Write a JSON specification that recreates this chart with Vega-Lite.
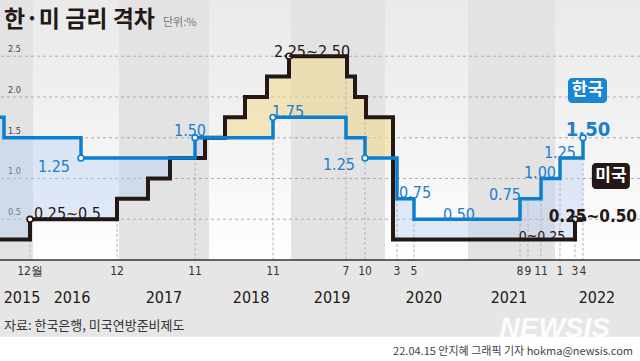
{
  "$schema": "https://vega.github.io/schema/vega-lite/v6.json",
  "width": 640,
  "height": 260,
  "autosize": "none",
  "padding": {"left": 0, "right": 0, "top": 0, "bottom": 101},
  "background": "#e6e6e6",
  "config": {"view": {"stroke": null}, "font": "Noto Sans CJK KR"},
  "data": {"values": [{}]},
  "datasets": {
    "bands": [
      {"start": "2015-05-01", "end": "2016-01-01", "shade": "odd"},
      {"start": "2016-01-01", "end": "2017-01-01", "shade": "even"},
      {"start": "2017-01-01", "end": "2018-01-01", "shade": "odd"},
      {"start": "2018-01-01", "end": "2019-01-01", "shade": "even"},
      {"start": "2019-01-01", "end": "2020-01-01", "shade": "odd"},
      {"start": "2020-01-01", "end": "2021-01-01", "shade": "even"},
      {"start": "2021-01-01", "end": "2022-01-01", "shade": "odd"},
      {"start": "2022-01-01", "end": "2022-08-31", "shade": "even"}
    ],
    "rates": [
      {"date": "2015-05-01", "kr": 1.75, "us": 0.25},
      {"date": "2015-06-11", "kr": 1.50, "us": 0.25},
      {"date": "2015-12-16", "kr": 1.50, "us": 0.50},
      {"date": "2016-06-09", "kr": 1.25, "us": 0.50},
      {"date": "2016-12-14", "kr": 1.25, "us": 0.75},
      {"date": "2017-03-15", "kr": 1.25, "us": 1.00},
      {"date": "2017-06-14", "kr": 1.25, "us": 1.25},
      {"date": "2017-11-30", "kr": 1.50, "us": 1.25},
      {"date": "2017-12-13", "kr": 1.50, "us": 1.50},
      {"date": "2018-03-21", "kr": 1.50, "us": 1.75},
      {"date": "2018-06-13", "kr": 1.50, "us": 2.00},
      {"date": "2018-09-26", "kr": 1.50, "us": 2.25},
      {"date": "2018-11-30", "kr": 1.75, "us": 2.25},
      {"date": "2018-12-19", "kr": 1.75, "us": 2.50},
      {"date": "2019-07-18", "kr": 1.50, "us": 2.50},
      {"date": "2019-07-31", "kr": 1.50, "us": 2.25},
      {"date": "2019-09-18", "kr": 1.50, "us": 2.00},
      {"date": "2019-10-16", "kr": 1.25, "us": 2.00},
      {"date": "2019-10-30", "kr": 1.25, "us": 1.75},
      {"date": "2020-03-15", "kr": 1.25, "us": 0.25},
      {"date": "2020-03-16", "kr": 0.75, "us": 0.25},
      {"date": "2020-05-28", "kr": 0.50, "us": 0.25},
      {"date": "2021-08-26", "kr": 0.75, "us": 0.25},
      {"date": "2021-11-25", "kr": 1.00, "us": 0.25},
      {"date": "2022-01-14", "kr": 1.25, "us": 0.25},
      {"date": "2022-03-16", "kr": 1.25, "us": 0.50},
      {"date": "2022-04-14", "kr": 1.50, "us": 0.50},
      {"date": "2022-04-22", "kr": null, "us": 0.50}
    ],
    "ticks": [
      {"date": "2015-12-16", "label": "12월", "top": 0.5},
      {"date": "2016-12-14", "label": "12", "top": 0.75},
      {"date": "2017-11-30", "label": "11", "top": 1.5},
      {"date": "2018-11-30", "label": "11", "top": 1.75},
      {"date": "2019-07-18", "label": "7", "top": 2.25},
      {"date": "2019-10-16", "label": "10", "top": 2.0},
      {"date": "2020-03-16", "label": "3", "top": 0.75},
      {"date": "2020-05-28", "label": "5", "top": 0.5},
      {"date": "2021-08-26", "label": "8", "top": 0.75},
      {"date": "2021-09-30", "label": "9", "top": 0.75},
      {"date": "2021-11-25", "label": "11", "top": 1.0},
      {"date": "2022-01-14", "label": "1", "top": 1.25},
      {"date": "2022-03-16", "label": "3", "top": 0.5},
      {"date": "2022-04-14", "label": "4", "top": 1.5}
    ],
    "years": [
      {"date": "2015-10-19", "label": "2015"},
      {"date": "2016-05-10", "label": "2016"},
      {"date": "2017-05-20", "label": "2017"},
      {"date": "2018-07-12", "label": "2018"},
      {"date": "2019-05-29", "label": "2019"},
      {"date": "2020-07-07", "label": "2020"},
      {"date": "2021-07-07", "label": "2021"},
      {"date": "2022-05-18", "label": "2022"}
    ],
    "grid": [
      {"v": 0.5, "label": "0.5"},
      {"v": 1.0, "label": "1.0"},
      {"v": 1.5, "label": "1.5"},
      {"v": 2.0, "label": "2.0"},
      {"v": 2.5, "label": "2.5"}
    ],
    "dots": [
      {"date": "2015-12-16", "v": 0.5, "who": "us"},
      {"date": "2018-12-19", "v": 2.5, "who": "us"},
      {"date": "2022-03-16", "v": 0.5, "who": "us"},
      {"date": "2016-06-09", "v": 1.25, "who": "kr"},
      {"date": "2017-11-30", "v": 1.5, "who": "kr"},
      {"date": "2018-11-30", "v": 1.75, "who": "kr"},
      {"date": "2019-10-16", "v": 1.25, "who": "kr"},
      {"date": "2022-04-14", "v": 1.5, "who": "kr"}
    ]
  },
  "layer": [
    {
      "data": {"name": "bands", "format": {"parse": {"start": "date", "end": "date"}}},
      "transform": [{"filter": "datum.shade == 'odd'"}],
      "mark": {"type": "rect", "fill": "#e3e3e3"},
      "encoding": {
        "x": {"field": "start", "type": "quantitative", "axis": null, "scale": {"domain": [1430438400000, 1433980800000, 1450224000000, 1451606400000, 1465430400000, 1481673600000, 1483228800000, 1489536000000, 1497398400000, 1512000000000, 1513123200000, 1514764800000, 1521590400000, 1528848000000, 1537920000000, 1543536000000, 1545177600000, 1546300800000, 1563408000000, 1564531200000, 1568764800000, 1571184000000, 1572393600000, 1577836800000, 1584230400000, 1584316800000, 1590624000000, 1609459200000, 1629936000000, 1632960000000, 1637798400000, 1640995200000, 1642118400000, 1647388800000, 1649894400000, 1661904000000], "range": [0, 4, 30, 33, 81, 117, 119, 148, 170, 195, 205, 209, 225, 245, 267, 273, 289, 291, 346, 347, 355, 365, 366, 385, 393, 397, 414, 468, 520, 528, 541, 555, 560, 575, 583, 640], "nice": false, "zero": false}},
        "x2": {"field": "end"}
      }
    },
    {
      "data": {"name": "bands", "format": {"parse": {"start": "date", "end": "date"}}},
      "transform": [{"filter": "datum.shade == 'even'"}],
      "mark": {"type": "rect", "fill": {"gradient": "linear", "x1": 0, "y1": 0, "x2": 0, "y2": 1, "stops": [{"offset": 0, "color": "#eaeaea"}, {"offset": 0.5, "color": "#f2f2f2"}, {"offset": 1, "color": "#ffffff"}]}},
      "encoding": {
        "x": {"field": "start", "type": "quantitative", "scale": {"domain": [1430438400000, 1433980800000, 1450224000000, 1451606400000, 1465430400000, 1481673600000, 1483228800000, 1489536000000, 1497398400000, 1512000000000, 1513123200000, 1514764800000, 1521590400000, 1528848000000, 1537920000000, 1543536000000, 1545177600000, 1546300800000, 1563408000000, 1564531200000, 1568764800000, 1571184000000, 1572393600000, 1577836800000, 1584230400000, 1584316800000, 1590624000000, 1609459200000, 1629936000000, 1632960000000, 1637798400000, 1640995200000, 1642118400000, 1647388800000, 1649894400000, 1661904000000], "range": [0, 4, 30, 33, 81, 117, 119, 148, 170, 195, 205, 209, 225, 245, 267, 273, 289, 291, 346, 347, 355, 365, 366, 385, 393, 397, 414, 468, 520, 528, 541, 555, 560, 575, 583, 640], "nice": false, "zero": false}},
        "x2": {"field": "end"}
      }
    },
    {
      "data": {"name": "bands", "format": {"parse": {"start": "date", "end": "date"}}},
      "mark": {"type": "rect", "fill": "#ffffff", "height": 26},
      "encoding": {
        "x": {"field": "start", "type": "quantitative", "scale": {"domain": [1430438400000, 1433980800000, 1450224000000, 1451606400000, 1465430400000, 1481673600000, 1483228800000, 1489536000000, 1497398400000, 1512000000000, 1513123200000, 1514764800000, 1521590400000, 1528848000000, 1537920000000, 1543536000000, 1545177600000, 1546300800000, 1563408000000, 1564531200000, 1568764800000, 1571184000000, 1572393600000, 1577836800000, 1584230400000, 1584316800000, 1590624000000, 1609459200000, 1629936000000, 1632960000000, 1637798400000, 1640995200000, 1642118400000, 1647388800000, 1649894400000, 1661904000000], "range": [0, 4, 30, 33, 81, 117, 119, 148, 170, 195, 205, 209, 225, 245, 267, 273, 289, 291, 346, 347, 355, 365, 366, 385, 393, 397, 414, 468, 520, 528, 541, 555, 560, 575, 583, 640], "nice": false, "zero": false}},
        "x2": {"field": "end"},
        "y": {"datum": -1.1, "type": "quantitative", "scale": {"domain": [0, 3.19], "nice": false, "zero": false}, "axis": null}
      }
    },
    {
      "data": {"name": "grid"},
      "mark": {"type": "rule", "color": "#9c9c9c", "strokeDash": [3, 3], "strokeWidth": 0.8},
      "encoding": {
        "y": {"field": "v", "type": "quantitative"}
      }
    },
    {
      "data": {"name": "grid"},
      "mark": {"type": "text", "align": "left", "baseline": "bottom", "dx": 8, "dy": -2, "fontSize": 9, "font": "DejaVu Sans Condensed, sans-serif", "color": "#444444"},
      "encoding": {
        "y": {"field": "v", "type": "quantitative"},
        "x": {"datum": 1430438400000, "type": "quantitative", "scale": {"domain": [1430438400000, 1433980800000, 1450224000000, 1451606400000, 1465430400000, 1481673600000, 1483228800000, 1489536000000, 1497398400000, 1512000000000, 1513123200000, 1514764800000, 1521590400000, 1528848000000, 1537920000000, 1543536000000, 1545177600000, 1546300800000, 1563408000000, 1564531200000, 1568764800000, 1571184000000, 1572393600000, 1577836800000, 1584230400000, 1584316800000, 1590624000000, 1609459200000, 1629936000000, 1632960000000, 1637798400000, 1640995200000, 1642118400000, 1647388800000, 1649894400000, 1661904000000], "range": [0, 4, 30, 33, 81, 117, 119, 148, 170, 195, 205, 209, 225, 245, 267, 273, 289, 291, 346, 347, 355, 365, 366, 385, 393, 397, 414, 468, 520, 528, 541, 555, 560, 575, 583, 640], "nice": false, "zero": false}},
        "text": {"field": "label"}
      }
    },
    {
      "data": {"name": "rates", "format": {"parse": {"date": "date"}}},
      "transform": [{"filter": "time(datum.date) <= utc(2017, 11, 13)"}],
      "mark": {"type": "area", "interpolate": "step-after", "color": "#b3ccf0", "opacity": 0.4},
      "encoding": {
        "x": {"field": "date", "type": "quantitative", "scale": {"domain": [1430438400000, 1433980800000, 1450224000000, 1451606400000, 1465430400000, 1481673600000, 1483228800000, 1489536000000, 1497398400000, 1512000000000, 1513123200000, 1514764800000, 1521590400000, 1528848000000, 1537920000000, 1543536000000, 1545177600000, 1546300800000, 1563408000000, 1564531200000, 1568764800000, 1571184000000, 1572393600000, 1577836800000, 1584230400000, 1584316800000, 1590624000000, 1609459200000, 1629936000000, 1632960000000, 1637798400000, 1640995200000, 1642118400000, 1647388800000, 1649894400000, 1661904000000], "range": [0, 4, 30, 33, 81, 117, 119, 148, 170, 195, 205, 209, 225, 245, 267, 273, 289, 291, 346, 347, 355, 365, 366, 385, 393, 397, 414, 468, 520, 528, 541, 555, 560, 575, 583, 640], "nice": false, "zero": false}},
        "y": {"field": "kr", "type": "quantitative"},
        "y2": {"field": "us"}
      }
    },
    {
      "data": {"name": "rates", "format": {"parse": {"date": "date"}}},
      "transform": [{"filter": "time(datum.date) >= utc(2017, 11, 13) && time(datum.date) <= utc(2020, 2, 15)"}],
      "mark": {"type": "area", "interpolate": "step-after", "color": "#f2d88e", "opacity": 0.55},
      "encoding": {
        "x": {"field": "date", "type": "quantitative", "scale": {"domain": [1430438400000, 1433980800000, 1450224000000, 1451606400000, 1465430400000, 1481673600000, 1483228800000, 1489536000000, 1497398400000, 1512000000000, 1513123200000, 1514764800000, 1521590400000, 1528848000000, 1537920000000, 1543536000000, 1545177600000, 1546300800000, 1563408000000, 1564531200000, 1568764800000, 1571184000000, 1572393600000, 1577836800000, 1584230400000, 1584316800000, 1590624000000, 1609459200000, 1629936000000, 1632960000000, 1637798400000, 1640995200000, 1642118400000, 1647388800000, 1649894400000, 1661904000000], "range": [0, 4, 30, 33, 81, 117, 119, 148, 170, 195, 205, 209, 225, 245, 267, 273, 289, 291, 346, 347, 355, 365, 366, 385, 393, 397, 414, 468, 520, 528, 541, 555, 560, 575, 583, 640], "nice": false, "zero": false}},
        "y": {"field": "kr", "type": "quantitative"},
        "y2": {"field": "us"}
      }
    },
    {
      "data": {"name": "rates", "format": {"parse": {"date": "date"}}},
      "transform": [{"filter": "time(datum.date) >= utc(2020, 2, 15) && datum.kr != null"}],
      "mark": {"type": "area", "interpolate": "step-after", "color": "#b3ccf0", "opacity": 0.4},
      "encoding": {
        "x": {"field": "date", "type": "quantitative", "scale": {"domain": [1430438400000, 1433980800000, 1450224000000, 1451606400000, 1465430400000, 1481673600000, 1483228800000, 1489536000000, 1497398400000, 1512000000000, 1513123200000, 1514764800000, 1521590400000, 1528848000000, 1537920000000, 1543536000000, 1545177600000, 1546300800000, 1563408000000, 1564531200000, 1568764800000, 1571184000000, 1572393600000, 1577836800000, 1584230400000, 1584316800000, 1590624000000, 1609459200000, 1629936000000, 1632960000000, 1637798400000, 1640995200000, 1642118400000, 1647388800000, 1649894400000, 1661904000000], "range": [0, 4, 30, 33, 81, 117, 119, 148, 170, 195, 205, 209, 225, 245, 267, 273, 289, 291, 346, 347, 355, 365, 366, 385, 393, 397, 414, 468, 520, 528, 541, 555, 560, 575, 583, 640], "nice": false, "zero": false}},
        "y": {"field": "kr", "type": "quantitative"},
        "y2": {"field": "us"}
      }
    },
    {
      "data": {"name": "ticks", "format": {"parse": {"date": "date"}}},
      "mark": {"type": "rule", "color": "#b4b4b4", "strokeDash": [3, 2], "strokeWidth": 1},
      "encoding": {
        "x": {"field": "date", "type": "quantitative", "scale": {"domain": [1430438400000, 1433980800000, 1450224000000, 1451606400000, 1465430400000, 1481673600000, 1483228800000, 1489536000000, 1497398400000, 1512000000000, 1513123200000, 1514764800000, 1521590400000, 1528848000000, 1537920000000, 1543536000000, 1545177600000, 1546300800000, 1563408000000, 1564531200000, 1568764800000, 1571184000000, 1572393600000, 1577836800000, 1584230400000, 1584316800000, 1590624000000, 1609459200000, 1629936000000, 1632960000000, 1637798400000, 1640995200000, 1642118400000, 1647388800000, 1649894400000, 1661904000000], "range": [0, 4, 30, 33, 81, 117, 119, 148, 170, 195, 205, 209, 225, 245, 267, 273, 289, 291, 346, 347, 355, 365, 366, 385, 393, 397, 414, 468, 520, 528, 541, 555, 560, 575, 583, 640], "nice": false, "zero": false}},
        "y": {"field": "top", "type": "quantitative"},
        "y2": {"datum": 0}
      }
    },
    {
      "data": {"name": "ticks", "format": {"parse": {"date": "date"}}},
      "mark": {"type": "text", "baseline": "middle", "dy": 11, "fontSize": 12, "font": "DejaVu Sans Condensed, sans-serif", "color": "#333333"},
      "encoding": {
        "x": {"field": "date", "type": "quantitative", "scale": {"domain": [1430438400000, 1433980800000, 1450224000000, 1451606400000, 1465430400000, 1481673600000, 1483228800000, 1489536000000, 1497398400000, 1512000000000, 1513123200000, 1514764800000, 1521590400000, 1528848000000, 1537920000000, 1543536000000, 1545177600000, 1546300800000, 1563408000000, 1564531200000, 1568764800000, 1571184000000, 1572393600000, 1577836800000, 1584230400000, 1584316800000, 1590624000000, 1609459200000, 1629936000000, 1632960000000, 1637798400000, 1640995200000, 1642118400000, 1647388800000, 1649894400000, 1661904000000], "range": [0, 4, 30, 33, 81, 117, 119, 148, 170, 195, 205, 209, 225, 245, 267, 273, 289, 291, 346, 347, 355, 365, 366, 385, 393, 397, 414, 468, 520, 528, 541, 555, 560, 575, 583, 640], "nice": false, "zero": false}},
        "y": {"datum": 0, "type": "quantitative"},
        "text": {"field": "label"}
      }
    },
    {
      "data": {"name": "years", "format": {"parse": {"date": "date"}}},
      "mark": {"type": "text", "baseline": "middle", "fontSize": 16, "font": "DejaVu Sans Condensed, sans-serif", "color": "#231815"},
      "encoding": {
        "x": {"field": "date", "type": "quantitative", "scale": {"domain": [1430438400000, 1433980800000, 1450224000000, 1451606400000, 1465430400000, 1481673600000, 1483228800000, 1489536000000, 1497398400000, 1512000000000, 1513123200000, 1514764800000, 1521590400000, 1528848000000, 1537920000000, 1543536000000, 1545177600000, 1546300800000, 1563408000000, 1564531200000, 1568764800000, 1571184000000, 1572393600000, 1577836800000, 1584230400000, 1584316800000, 1590624000000, 1609459200000, 1629936000000, 1632960000000, 1637798400000, 1640995200000, 1642118400000, 1647388800000, 1649894400000, 1661904000000], "range": [0, 4, 30, 33, 81, 117, 119, 148, 170, 195, 205, 209, 225, 245, 267, 273, 289, 291, 346, 347, 355, 365, 366, 385, 393, 397, 414, 468, 520, 528, 541, 555, 560, 575, 583, 640], "nice": false, "zero": false}},
        "y": {"datum": -0.466, "type": "quantitative"},
        "text": {"field": "label"}
      }
    },
    {
      "mark": {"type": "rule", "color": "#333333", "strokeWidth": 1.5},
      "encoding": {
        "y": {"datum": 0, "type": "quantitative"}
      }
    },
    {
      "data": {"name": "rates", "format": {"parse": {"date": "date"}}},
      "mark": {"type": "line", "interpolate": "step-after", "color": "#231815", "strokeWidth": 4},
      "encoding": {
        "x": {"field": "date", "type": "quantitative", "scale": {"domain": [1430438400000, 1433980800000, 1450224000000, 1451606400000, 1465430400000, 1481673600000, 1483228800000, 1489536000000, 1497398400000, 1512000000000, 1513123200000, 1514764800000, 1521590400000, 1528848000000, 1537920000000, 1543536000000, 1545177600000, 1546300800000, 1563408000000, 1564531200000, 1568764800000, 1571184000000, 1572393600000, 1577836800000, 1584230400000, 1584316800000, 1590624000000, 1609459200000, 1629936000000, 1632960000000, 1637798400000, 1640995200000, 1642118400000, 1647388800000, 1649894400000, 1661904000000], "range": [0, 4, 30, 33, 81, 117, 119, 148, 170, 195, 205, 209, 225, 245, 267, 273, 289, 291, 346, 347, 355, 365, 366, 385, 393, 397, 414, 468, 520, 528, 541, 555, 560, 575, 583, 640], "nice": false, "zero": false}},
        "y": {"field": "us", "type": "quantitative"}
      }
    },
    {
      "data": {"name": "rates", "format": {"parse": {"date": "date"}}},
      "transform": [{"filter": "datum.kr != null"}],
      "mark": {"type": "line", "interpolate": "step-after", "color": "#0b7fcf", "strokeWidth": 3.5},
      "encoding": {
        "x": {"field": "date", "type": "quantitative", "scale": {"domain": [1430438400000, 1433980800000, 1450224000000, 1451606400000, 1465430400000, 1481673600000, 1483228800000, 1489536000000, 1497398400000, 1512000000000, 1513123200000, 1514764800000, 1521590400000, 1528848000000, 1537920000000, 1543536000000, 1545177600000, 1546300800000, 1563408000000, 1564531200000, 1568764800000, 1571184000000, 1572393600000, 1577836800000, 1584230400000, 1584316800000, 1590624000000, 1609459200000, 1629936000000, 1632960000000, 1637798400000, 1640995200000, 1642118400000, 1647388800000, 1649894400000, 1661904000000], "range": [0, 4, 30, 33, 81, 117, 119, 148, 170, 195, 205, 209, 225, 245, 267, 273, 289, 291, 346, 347, 355, 365, 366, 385, 393, 397, 414, 468, 520, 528, 541, 555, 560, 575, 583, 640], "nice": false, "zero": false}},
        "y": {"field": "kr", "type": "quantitative"}
      }
    },
    {
      "data": {"name": "dots", "format": {"parse": {"date": "date"}}},
      "mark": {"type": "point", "shape": "circle", "filled": true, "fill": "#ffffff", "size": 34, "strokeWidth": 1.6, "opacity": 1},
      "encoding": {
        "x": {"field": "date", "type": "quantitative", "scale": {"domain": [1430438400000, 1433980800000, 1450224000000, 1451606400000, 1465430400000, 1481673600000, 1483228800000, 1489536000000, 1497398400000, 1512000000000, 1513123200000, 1514764800000, 1521590400000, 1528848000000, 1537920000000, 1543536000000, 1545177600000, 1546300800000, 1563408000000, 1564531200000, 1568764800000, 1571184000000, 1572393600000, 1577836800000, 1584230400000, 1584316800000, 1590624000000, 1609459200000, 1629936000000, 1632960000000, 1637798400000, 1640995200000, 1642118400000, 1647388800000, 1649894400000, 1661904000000], "range": [0, 4, 30, 33, 81, 117, 119, 148, 170, 195, 205, 209, 225, 245, 267, 273, 289, 291, 346, 347, 355, 365, 366, 385, 393, 397, 414, 468, 520, 528, 541, 555, 560, 575, 583, 640], "nice": false, "zero": false}},
        "y": {"field": "v", "type": "quantitative"},
        "stroke": {"field": "who", "type": "nominal", "scale": {"domain": ["kr", "us"], "range": ["#0b7fcf", "#231815"]}, "legend": null}
      }
    },
    {
      "mark": {"type": "text", "text": "0.25~0.5", "align": "left", "dx": 4, "dy": -5, "fontSize": 16, "font": "DejaVu Sans Condensed, sans-serif", "color": "#231815"},
      "encoding": {"x": {"datum": 1450224000000, "type": "quantitative", "scale": {"domain": [1430438400000, 1433980800000, 1450224000000, 1451606400000, 1465430400000, 1481673600000, 1483228800000, 1489536000000, 1497398400000, 1512000000000, 1513123200000, 1514764800000, 1521590400000, 1528848000000, 1537920000000, 1543536000000, 1545177600000, 1546300800000, 1563408000000, 1564531200000, 1568764800000, 1571184000000, 1572393600000, 1577836800000, 1584230400000, 1584316800000, 1590624000000, 1609459200000, 1629936000000, 1632960000000, 1637798400000, 1640995200000, 1642118400000, 1647388800000, 1649894400000, 1661904000000], "range": [0, 4, 30, 33, 81, 117, 119, 148, 170, 195, 205, 209, 225, 245, 267, 273, 289, 291, 346, 347, 355, 365, 366, 385, 393, 397, 414, 468, 520, 528, 541, 555, 560, 575, 583, 640], "nice": false, "zero": false}}, "y": {"datum": 0.5, "type": "quantitative"}}
    },
    {
      "mark": {"type": "text", "text": "2.25~2.50", "align": "center", "dx": 23, "dy": -4, "fontSize": 16, "font": "DejaVu Sans Condensed, sans-serif", "color": "#231815"},
      "encoding": {"x": {"datum": 1545177600000, "type": "quantitative", "scale": {"domain": [1430438400000, 1433980800000, 1450224000000, 1451606400000, 1465430400000, 1481673600000, 1483228800000, 1489536000000, 1497398400000, 1512000000000, 1513123200000, 1514764800000, 1521590400000, 1528848000000, 1537920000000, 1543536000000, 1545177600000, 1546300800000, 1563408000000, 1564531200000, 1568764800000, 1571184000000, 1572393600000, 1577836800000, 1584230400000, 1584316800000, 1590624000000, 1609459200000, 1629936000000, 1632960000000, 1637798400000, 1640995200000, 1642118400000, 1647388800000, 1649894400000, 1661904000000], "range": [0, 4, 30, 33, 81, 117, 119, 148, 170, 195, 205, 209, 225, 245, 267, 273, 289, 291, 346, 347, 355, 365, 366, 385, 393, 397, 414, 468, 520, 528, 541, 555, 560, 575, 583, 640], "nice": false, "zero": false}}, "y": {"datum": 2.5, "type": "quantitative"}}
    },
    {
      "mark": {"type": "text", "text": "0.25~0.50", "align": "right", "dx": 62, "dy": -2, "fontSize": 17, "fontWeight": "bold", "font": "DejaVu Sans Condensed, sans-serif", "color": "#231815"},
      "encoding": {"x": {"datum": 1647388800000, "type": "quantitative", "scale": {"domain": [1430438400000, 1433980800000, 1450224000000, 1451606400000, 1465430400000, 1481673600000, 1483228800000, 1489536000000, 1497398400000, 1512000000000, 1513123200000, 1514764800000, 1521590400000, 1528848000000, 1537920000000, 1543536000000, 1545177600000, 1546300800000, 1563408000000, 1564531200000, 1568764800000, 1571184000000, 1572393600000, 1577836800000, 1584230400000, 1584316800000, 1590624000000, 1609459200000, 1629936000000, 1632960000000, 1637798400000, 1640995200000, 1642118400000, 1647388800000, 1649894400000, 1661904000000], "range": [0, 4, 30, 33, 81, 117, 119, 148, 170, 195, 205, 209, 225, 245, 267, 273, 289, 291, 346, 347, 355, 365, 366, 385, 393, 397, 414, 468, 520, 528, 541, 555, 560, 575, 583, 640], "nice": false, "zero": false}}, "y": {"datum": 0.5, "type": "quantitative"}}
    },
    {
      "mark": {"type": "text", "text": "0~0.25", "align": "center", "dx": -33, "dy": -3, "fontSize": 14, "font": "DejaVu Sans Condensed, sans-serif", "color": "#231815"},
      "encoding": {"x": {"datum": 1647388800000, "type": "quantitative", "scale": {"domain": [1430438400000, 1433980800000, 1450224000000, 1451606400000, 1465430400000, 1481673600000, 1483228800000, 1489536000000, 1497398400000, 1512000000000, 1513123200000, 1514764800000, 1521590400000, 1528848000000, 1537920000000, 1543536000000, 1545177600000, 1546300800000, 1563408000000, 1564531200000, 1568764800000, 1571184000000, 1572393600000, 1577836800000, 1584230400000, 1584316800000, 1590624000000, 1609459200000, 1629936000000, 1632960000000, 1637798400000, 1640995200000, 1642118400000, 1647388800000, 1649894400000, 1661904000000], "range": [0, 4, 30, 33, 81, 117, 119, 148, 170, 195, 205, 209, 225, 245, 267, 273, 289, 291, 346, 347, 355, 365, 366, 385, 393, 397, 414, 468, 520, 528, 541, 555, 560, 575, 583, 640], "nice": false, "zero": false}}, "y": {"datum": 0.25, "type": "quantitative"}}
    },
    {
      "mark": {"type": "text", "text": "1.25", "align": "right", "dx": -11, "dy": 9, "fontSize": 16, "font": "DejaVu Sans Condensed, sans-serif", "color": "#1a7fcc"},
      "encoding": {"x": {"datum": 1465430400000, "type": "quantitative", "scale": {"domain": [1430438400000, 1433980800000, 1450224000000, 1451606400000, 1465430400000, 1481673600000, 1483228800000, 1489536000000, 1497398400000, 1512000000000, 1513123200000, 1514764800000, 1521590400000, 1528848000000, 1537920000000, 1543536000000, 1545177600000, 1546300800000, 1563408000000, 1564531200000, 1568764800000, 1571184000000, 1572393600000, 1577836800000, 1584230400000, 1584316800000, 1590624000000, 1609459200000, 1629936000000, 1632960000000, 1637798400000, 1640995200000, 1642118400000, 1647388800000, 1649894400000, 1661904000000], "range": [0, 4, 30, 33, 81, 117, 119, 148, 170, 195, 205, 209, 225, 245, 267, 273, 289, 291, 346, 347, 355, 365, 366, 385, 393, 397, 414, 468, 520, 528, 541, 555, 560, 575, 583, 640], "nice": false, "zero": false}}, "y": {"datum": 1.25, "type": "quantitative"}}
    },
    {
      "mark": {"type": "text", "text": "1.50", "align": "center", "dx": -5, "dy": -7, "fontSize": 16, "font": "DejaVu Sans Condensed, sans-serif", "color": "#1a7fcc"},
      "encoding": {"x": {"datum": 1512000000000, "type": "quantitative", "scale": {"domain": [1430438400000, 1433980800000, 1450224000000, 1451606400000, 1465430400000, 1481673600000, 1483228800000, 1489536000000, 1497398400000, 1512000000000, 1513123200000, 1514764800000, 1521590400000, 1528848000000, 1537920000000, 1543536000000, 1545177600000, 1546300800000, 1563408000000, 1564531200000, 1568764800000, 1571184000000, 1572393600000, 1577836800000, 1584230400000, 1584316800000, 1590624000000, 1609459200000, 1629936000000, 1632960000000, 1637798400000, 1640995200000, 1642118400000, 1647388800000, 1649894400000, 1661904000000], "range": [0, 4, 30, 33, 81, 117, 119, 148, 170, 195, 205, 209, 225, 245, 267, 273, 289, 291, 346, 347, 355, 365, 366, 385, 393, 397, 414, 468, 520, 528, 541, 555, 560, 575, 583, 640], "nice": false, "zero": false}}, "y": {"datum": 1.5, "type": "quantitative"}}
    },
    {
      "mark": {"type": "text", "text": "1.75", "align": "left", "dx": -1, "dy": -5, "fontSize": 16, "font": "DejaVu Sans Condensed, sans-serif", "color": "#1a7fcc"},
      "encoding": {"x": {"datum": 1543536000000, "type": "quantitative", "scale": {"domain": [1430438400000, 1433980800000, 1450224000000, 1451606400000, 1465430400000, 1481673600000, 1483228800000, 1489536000000, 1497398400000, 1512000000000, 1513123200000, 1514764800000, 1521590400000, 1528848000000, 1537920000000, 1543536000000, 1545177600000, 1546300800000, 1563408000000, 1564531200000, 1568764800000, 1571184000000, 1572393600000, 1577836800000, 1584230400000, 1584316800000, 1590624000000, 1609459200000, 1629936000000, 1632960000000, 1637798400000, 1640995200000, 1642118400000, 1647388800000, 1649894400000, 1661904000000], "range": [0, 4, 30, 33, 81, 117, 119, 148, 170, 195, 205, 209, 225, 245, 267, 273, 289, 291, 346, 347, 355, 365, 366, 385, 393, 397, 414, 468, 520, 528, 541, 555, 560, 575, 583, 640], "nice": false, "zero": false}}, "y": {"datum": 1.75, "type": "quantitative"}}
    },
    {
      "mark": {"type": "text", "text": "1.25", "align": "right", "dx": -10, "dy": 7, "fontSize": 16, "font": "DejaVu Sans Condensed, sans-serif", "color": "#1a7fcc"},
      "encoding": {"x": {"datum": 1571184000000, "type": "quantitative", "scale": {"domain": [1430438400000, 1433980800000, 1450224000000, 1451606400000, 1465430400000, 1481673600000, 1483228800000, 1489536000000, 1497398400000, 1512000000000, 1513123200000, 1514764800000, 1521590400000, 1528848000000, 1537920000000, 1543536000000, 1545177600000, 1546300800000, 1563408000000, 1564531200000, 1568764800000, 1571184000000, 1572393600000, 1577836800000, 1584230400000, 1584316800000, 1590624000000, 1609459200000, 1629936000000, 1632960000000, 1637798400000, 1640995200000, 1642118400000, 1647388800000, 1649894400000, 1661904000000], "range": [0, 4, 30, 33, 81, 117, 119, 148, 170, 195, 205, 209, 225, 245, 267, 273, 289, 291, 346, 347, 355, 365, 366, 385, 393, 397, 414, 468, 520, 528, 541, 555, 560, 575, 583, 640], "nice": false, "zero": false}}, "y": {"datum": 1.25, "type": "quantitative"}}
    },
    {
      "mark": {"type": "text", "text": "0.75", "align": "left", "dx": 2, "dy": -6, "fontSize": 16, "font": "DejaVu Sans Condensed, sans-serif", "color": "#1a7fcc"},
      "encoding": {"x": {"datum": 1584316800000, "type": "quantitative", "scale": {"domain": [1430438400000, 1433980800000, 1450224000000, 1451606400000, 1465430400000, 1481673600000, 1483228800000, 1489536000000, 1497398400000, 1512000000000, 1513123200000, 1514764800000, 1521590400000, 1528848000000, 1537920000000, 1543536000000, 1545177600000, 1546300800000, 1563408000000, 1564531200000, 1568764800000, 1571184000000, 1572393600000, 1577836800000, 1584230400000, 1584316800000, 1590624000000, 1609459200000, 1629936000000, 1632960000000, 1637798400000, 1640995200000, 1642118400000, 1647388800000, 1649894400000, 1661904000000], "range": [0, 4, 30, 33, 81, 117, 119, 148, 170, 195, 205, 209, 225, 245, 267, 273, 289, 291, 346, 347, 355, 365, 366, 385, 393, 397, 414, 468, 520, 528, 541, 555, 560, 575, 583, 640], "nice": false, "zero": false}}, "y": {"datum": 0.75, "type": "quantitative"}}
    },
    {
      "mark": {"type": "text", "text": "0.50", "align": "center", "dx": 45, "dy": -4, "fontSize": 16, "font": "DejaVu Sans Condensed, sans-serif", "color": "#1a7fcc"},
      "encoding": {"x": {"datum": 1590624000000, "type": "quantitative", "scale": {"domain": [1430438400000, 1433980800000, 1450224000000, 1451606400000, 1465430400000, 1481673600000, 1483228800000, 1489536000000, 1497398400000, 1512000000000, 1513123200000, 1514764800000, 1521590400000, 1528848000000, 1537920000000, 1543536000000, 1545177600000, 1546300800000, 1563408000000, 1564531200000, 1568764800000, 1571184000000, 1572393600000, 1577836800000, 1584230400000, 1584316800000, 1590624000000, 1609459200000, 1629936000000, 1632960000000, 1637798400000, 1640995200000, 1642118400000, 1647388800000, 1649894400000, 1661904000000], "range": [0, 4, 30, 33, 81, 117, 119, 148, 170, 195, 205, 209, 225, 245, 267, 273, 289, 291, 346, 347, 355, 365, 366, 385, 393, 397, 414, 468, 520, 528, 541, 555, 560, 575, 583, 640], "nice": false, "zero": false}}, "y": {"datum": 0.5, "type": "quantitative"}}
    },
    {
      "mark": {"type": "text", "text": "0.75", "align": "right", "dx": 1, "dy": -4, "fontSize": 16, "font": "DejaVu Sans Condensed, sans-serif", "color": "#1a7fcc"},
      "encoding": {"x": {"datum": 1629936000000, "type": "quantitative", "scale": {"domain": [1430438400000, 1433980800000, 1450224000000, 1451606400000, 1465430400000, 1481673600000, 1483228800000, 1489536000000, 1497398400000, 1512000000000, 1513123200000, 1514764800000, 1521590400000, 1528848000000, 1537920000000, 1543536000000, 1545177600000, 1546300800000, 1563408000000, 1564531200000, 1568764800000, 1571184000000, 1572393600000, 1577836800000, 1584230400000, 1584316800000, 1590624000000, 1609459200000, 1629936000000, 1632960000000, 1637798400000, 1640995200000, 1642118400000, 1647388800000, 1649894400000, 1661904000000], "range": [0, 4, 30, 33, 81, 117, 119, 148, 170, 195, 205, 209, 225, 245, 267, 273, 289, 291, 346, 347, 355, 365, 366, 385, 393, 397, 414, 468, 520, 528, 541, 555, 560, 575, 583, 640], "nice": false, "zero": false}}, "y": {"datum": 0.75, "type": "quantitative"}}
    },
    {
      "mark": {"type": "text", "text": "1.00", "align": "right", "dx": 15, "dy": -5, "fontSize": 16, "font": "DejaVu Sans Condensed, sans-serif", "color": "#1a7fcc"},
      "encoding": {"x": {"datum": 1637798400000, "type": "quantitative", "scale": {"domain": [1430438400000, 1433980800000, 1450224000000, 1451606400000, 1465430400000, 1481673600000, 1483228800000, 1489536000000, 1497398400000, 1512000000000, 1513123200000, 1514764800000, 1521590400000, 1528848000000, 1537920000000, 1543536000000, 1545177600000, 1546300800000, 1563408000000, 1564531200000, 1568764800000, 1571184000000, 1572393600000, 1577836800000, 1584230400000, 1584316800000, 1590624000000, 1609459200000, 1629936000000, 1632960000000, 1637798400000, 1640995200000, 1642118400000, 1647388800000, 1649894400000, 1661904000000], "range": [0, 4, 30, 33, 81, 117, 119, 148, 170, 195, 205, 209, 225, 245, 267, 273, 289, 291, 346, 347, 355, 365, 366, 385, 393, 397, 414, 468, 520, 528, 541, 555, 560, 575, 583, 640], "nice": false, "zero": false}}, "y": {"datum": 1.0, "type": "quantitative"}}
    },
    {
      "mark": {"type": "text", "text": "1.25", "align": "right", "dx": 16, "dy": -5, "fontSize": 16, "font": "DejaVu Sans Condensed, sans-serif", "color": "#1a7fcc"},
      "encoding": {"x": {"datum": 1642118400000, "type": "quantitative", "scale": {"domain": [1430438400000, 1433980800000, 1450224000000, 1451606400000, 1465430400000, 1481673600000, 1483228800000, 1489536000000, 1497398400000, 1512000000000, 1513123200000, 1514764800000, 1521590400000, 1528848000000, 1537920000000, 1543536000000, 1545177600000, 1546300800000, 1563408000000, 1564531200000, 1568764800000, 1571184000000, 1572393600000, 1577836800000, 1584230400000, 1584316800000, 1590624000000, 1609459200000, 1629936000000, 1632960000000, 1637798400000, 1640995200000, 1642118400000, 1647388800000, 1649894400000, 1661904000000], "range": [0, 4, 30, 33, 81, 117, 119, 148, 170, 195, 205, 209, 225, 245, 267, 273, 289, 291, 346, 347, 355, 365, 366, 385, 393, 397, 414, 468, 520, 528, 541, 555, 560, 575, 583, 640], "nice": false, "zero": false}}, "y": {"datum": 1.25, "type": "quantitative"}}
    },
    {
      "mark": {"type": "text", "text": "1.50", "align": "center", "dx": 5, "dy": -8, "fontSize": 20, "fontWeight": "bold", "font": "DejaVu Sans Condensed, sans-serif", "color": "#1a7fcc"},
      "encoding": {"x": {"datum": 1649894400000, "type": "quantitative", "scale": {"domain": [1430438400000, 1433980800000, 1450224000000, 1451606400000, 1465430400000, 1481673600000, 1483228800000, 1489536000000, 1497398400000, 1512000000000, 1513123200000, 1514764800000, 1521590400000, 1528848000000, 1537920000000, 1543536000000, 1545177600000, 1546300800000, 1563408000000, 1564531200000, 1568764800000, 1571184000000, 1572393600000, 1577836800000, 1584230400000, 1584316800000, 1590624000000, 1609459200000, 1629936000000, 1632960000000, 1637798400000, 1640995200000, 1642118400000, 1647388800000, 1649894400000, 1661904000000], "range": [0, 4, 30, 33, 81, 117, 119, 148, 170, 195, 205, 209, 225, 245, 267, 273, 289, 291, 346, 347, 355, 365, 366, 385, 393, 397, 414, 468, 520, 528, 541, 555, 560, 575, 583, 640], "nice": false, "zero": false}}, "y": {"datum": 1.5, "type": "quantitative"}}
    },
    {
      "mark": {"type": "rect", "fill": "#1a86d0", "cornerRadius": 4, "width": 39, "height": 25},
      "encoding": {"x": {"datum": 1650844800000, "type": "quantitative", "scale": {"domain": [1430438400000, 1433980800000, 1450224000000, 1451606400000, 1465430400000, 1481673600000, 1483228800000, 1489536000000, 1497398400000, 1512000000000, 1513123200000, 1514764800000, 1521590400000, 1528848000000, 1537920000000, 1543536000000, 1545177600000, 1546300800000, 1563408000000, 1564531200000, 1568764800000, 1571184000000, 1572393600000, 1577836800000, 1584230400000, 1584316800000, 1590624000000, 1609459200000, 1629936000000, 1632960000000, 1637798400000, 1640995200000, 1642118400000, 1647388800000, 1649894400000, 1661904000000], "range": [0, 4, 30, 33, 81, 117, 119, 148, 170, 195, 205, 209, 225, 245, 267, 273, 289, 291, 346, 347, 355, 365, 366, 385, 393, 397, 414, 468, 520, 528, 541, 555, 560, 575, 583, 640], "nice": false, "zero": false}}, "y": {"datum": 2.08, "type": "quantitative"}}
    },
    {
      "mark": {"type": "text", "text": "한국", "align": "center", "baseline": "middle", "fontSize": 17, "fontWeight": "bold", "font": "Noto Sans CJK KR", "color": "#ffffff"},
      "encoding": {"x": {"datum": 1650844800000, "type": "quantitative", "scale": {"domain": [1430438400000, 1433980800000, 1450224000000, 1451606400000, 1465430400000, 1481673600000, 1483228800000, 1489536000000, 1497398400000, 1512000000000, 1513123200000, 1514764800000, 1521590400000, 1528848000000, 1537920000000, 1543536000000, 1545177600000, 1546300800000, 1563408000000, 1564531200000, 1568764800000, 1571184000000, 1572393600000, 1577836800000, 1584230400000, 1584316800000, 1590624000000, 1609459200000, 1629936000000, 1632960000000, 1637798400000, 1640995200000, 1642118400000, 1647388800000, 1649894400000, 1661904000000], "range": [0, 4, 30, 33, 81, 117, 119, 148, 170, 195, 205, 209, 225, 245, 267, 273, 289, 291, 346, 347, 355, 365, 366, 385, 393, 397, 414, 468, 520, 528, 541, 555, 560, 575, 583, 640], "nice": false, "zero": false}}, "y": {"datum": 2.08, "type": "quantitative"}}
    },
    {
      "mark": {"type": "rect", "fill": "#231815", "cornerRadius": 4, "width": 38, "height": 26},
      "encoding": {"x": {"datum": 1655769600000, "type": "quantitative", "scale": {"domain": [1430438400000, 1433980800000, 1450224000000, 1451606400000, 1465430400000, 1481673600000, 1483228800000, 1489536000000, 1497398400000, 1512000000000, 1513123200000, 1514764800000, 1521590400000, 1528848000000, 1537920000000, 1543536000000, 1545177600000, 1546300800000, 1563408000000, 1564531200000, 1568764800000, 1571184000000, 1572393600000, 1577836800000, 1584230400000, 1584316800000, 1590624000000, 1609459200000, 1629936000000, 1632960000000, 1637798400000, 1640995200000, 1642118400000, 1647388800000, 1649894400000, 1661904000000], "range": [0, 4, 30, 33, 81, 117, 119, 148, 170, 195, 205, 209, 225, 245, 267, 273, 289, 291, 346, 347, 355, 365, 366, 385, 393, 397, 414, 468, 520, 528, 541, 555, 560, 575, 583, 640], "nice": false, "zero": false}}, "y": {"datum": 1.031, "type": "quantitative"}}
    },
    {
      "mark": {"type": "text", "text": "미국", "align": "center", "baseline": "middle", "fontSize": 17, "fontWeight": "bold", "font": "Noto Sans CJK KR", "color": "#ffffff"},
      "encoding": {"x": {"datum": 1655769600000, "type": "quantitative", "scale": {"domain": [1430438400000, 1433980800000, 1450224000000, 1451606400000, 1465430400000, 1481673600000, 1483228800000, 1489536000000, 1497398400000, 1512000000000, 1513123200000, 1514764800000, 1521590400000, 1528848000000, 1537920000000, 1543536000000, 1545177600000, 1546300800000, 1563408000000, 1564531200000, 1568764800000, 1571184000000, 1572393600000, 1577836800000, 1584230400000, 1584316800000, 1590624000000, 1609459200000, 1629936000000, 1632960000000, 1637798400000, 1640995200000, 1642118400000, 1647388800000, 1649894400000, 1661904000000], "range": [0, 4, 30, 33, 81, 117, 119, 148, 170, 195, 205, 209, 225, 245, 267, 273, 289, 291, 346, 347, 355, 365, 366, 385, 393, 397, 414, 468, 520, 528, 541, 555, 560, 575, 583, 640], "nice": false, "zero": false}}, "y": {"datum": 1.031, "type": "quantitative"}}
    },
    {
      "mark": {"type": "text", "text": "한·미 금리 격차", "align": "left", "baseline": "alphabetic", "dx": 4, "dy": 27, "fontSize": 23, "fontWeight": "bold", "font": "Noto Sans CJK KR", "color": "#231815"},
      "encoding": {"x": {"datum": 1430438400000, "type": "quantitative", "scale": {"domain": [1430438400000, 1433980800000, 1450224000000, 1451606400000, 1465430400000, 1481673600000, 1483228800000, 1489536000000, 1497398400000, 1512000000000, 1513123200000, 1514764800000, 1521590400000, 1528848000000, 1537920000000, 1543536000000, 1545177600000, 1546300800000, 1563408000000, 1564531200000, 1568764800000, 1571184000000, 1572393600000, 1577836800000, 1584230400000, 1584316800000, 1590624000000, 1609459200000, 1629936000000, 1632960000000, 1637798400000, 1640995200000, 1642118400000, 1647388800000, 1649894400000, 1661904000000], "range": [0, 4, 30, 33, 81, 117, 119, 148, 170, 195, 205, 209, 225, 245, 267, 273, 289, 291, 346, 347, 355, 365, 366, 385, 393, 397, 414, 468, 520, 528, 541, 555, 560, 575, 583, 640], "nice": false, "zero": false}}, "y": {"datum": 3.19, "type": "quantitative"}}
    },
    {
      "mark": {"type": "text", "text": "단위:%", "align": "left", "baseline": "alphabetic", "dx": 163, "dy": 26, "fontSize": 11, "font": "Noto Sans CJK KR", "color": "#777777"},
      "encoding": {"x": {"datum": 1430438400000, "type": "quantitative", "scale": {"domain": [1430438400000, 1433980800000, 1450224000000, 1451606400000, 1465430400000, 1481673600000, 1483228800000, 1489536000000, 1497398400000, 1512000000000, 1513123200000, 1514764800000, 1521590400000, 1528848000000, 1537920000000, 1543536000000, 1545177600000, 1546300800000, 1563408000000, 1564531200000, 1568764800000, 1571184000000, 1572393600000, 1577836800000, 1584230400000, 1584316800000, 1590624000000, 1609459200000, 1629936000000, 1632960000000, 1637798400000, 1640995200000, 1642118400000, 1647388800000, 1649894400000, 1661904000000], "range": [0, 4, 30, 33, 81, 117, 119, 148, 170, 195, 205, 209, 225, 245, 267, 273, 289, 291, 346, 347, 355, 365, 366, 385, 393, 397, 414, 468, 520, 528, 541, 555, 560, 575, 583, 640], "nice": false, "zero": false}}, "y": {"datum": 3.19, "type": "quantitative"}}
    },
    {
      "mark": {"type": "text", "text": "자료: 한국은행, 미국연방준비제도", "align": "left", "baseline": "middle", "dx": 4, "fontSize": 13, "font": "Noto Sans CJK KR", "color": "#333333"},
      "encoding": {"x": {"datum": 1430438400000, "type": "quantitative", "scale": {"domain": [1430438400000, 1433980800000, 1450224000000, 1451606400000, 1465430400000, 1481673600000, 1483228800000, 1489536000000, 1497398400000, 1512000000000, 1513123200000, 1514764800000, 1521590400000, 1528848000000, 1537920000000, 1543536000000, 1545177600000, 1546300800000, 1563408000000, 1564531200000, 1568764800000, 1571184000000, 1572393600000, 1577836800000, 1584230400000, 1584316800000, 1590624000000, 1609459200000, 1629936000000, 1632960000000, 1637798400000, 1640995200000, 1642118400000, 1647388800000, 1649894400000, 1661904000000], "range": [0, 4, 30, 33, 81, 117, 119, 148, 170, 195, 205, 209, 225, 245, 267, 273, 289, 291, 346, 347, 355, 365, 366, 385, 393, 397, 414, 468, 520, 528, 541, 555, 560, 575, 583, 640], "nice": false, "zero": false}}, "y": {"datum": -0.81, "type": "quantitative"}}
    },
    {
      "mark": {"type": "text", "text": "NEWSIS", "align": "right", "baseline": "alphabetic", "dx": -30, "fontSize": 28, "fontWeight": "bold", "fontStyle": "italic", "font": "Liberation Sans, sans-serif", "color": "#ffffff", "opacity": 0.9},
      "encoding": {"x": {"datum": 1661904000000, "type": "quantitative", "scale": {"domain": [1430438400000, 1433980800000, 1450224000000, 1451606400000, 1465430400000, 1481673600000, 1483228800000, 1489536000000, 1497398400000, 1512000000000, 1513123200000, 1514764800000, 1521590400000, 1528848000000, 1537920000000, 1543536000000, 1545177600000, 1546300800000, 1563408000000, 1564531200000, 1568764800000, 1571184000000, 1572393600000, 1577836800000, 1584230400000, 1584316800000, 1590624000000, 1609459200000, 1629936000000, 1632960000000, 1637798400000, 1640995200000, 1642118400000, 1647388800000, 1649894400000, 1661904000000], "range": [0, 4, 30, 33, 81, 117, 119, 148, 170, 195, 205, 209, 225, 245, 267, 273, 289, 291, 346, 347, 355, 365, 366, 385, 393, 397, 414, 468, 520, 528, 541, 555, 560, 575, 583, 640], "nice": false, "zero": false}}, "y": {"datum": -0.945, "type": "quantitative"}}
    },
    {
      "mark": {"type": "text", "text": "22.04.15 안지혜 그래픽 기자 hokma@newsis.com", "align": "right", "baseline": "middle", "dx": -7, "fontSize": 11, "font": "Noto Sans CJK KR", "color": "#444444"},
      "encoding": {"x": {"datum": 1661904000000, "type": "quantitative", "scale": {"domain": [1430438400000, 1433980800000, 1450224000000, 1451606400000, 1465430400000, 1481673600000, 1483228800000, 1489536000000, 1497398400000, 1512000000000, 1513123200000, 1514764800000, 1521590400000, 1528848000000, 1537920000000, 1543536000000, 1545177600000, 1546300800000, 1563408000000, 1564531200000, 1568764800000, 1571184000000, 1572393600000, 1577836800000, 1584230400000, 1584316800000, 1590624000000, 1609459200000, 1629936000000, 1632960000000, 1637798400000, 1640995200000, 1642118400000, 1647388800000, 1649894400000, 1661904000000], "range": [0, 4, 30, 33, 81, 117, 119, 148, 170, 195, 205, 209, 225, 245, 267, 273, 289, 291, 346, 347, 355, 365, 366, 385, 393, 397, 414, 468, 520, 528, 541, 555, 560, 575, 583, 640], "nice": false, "zero": false}}, "y": {"datum": -1.129, "type": "quantitative"}}
    }
  ]
}
